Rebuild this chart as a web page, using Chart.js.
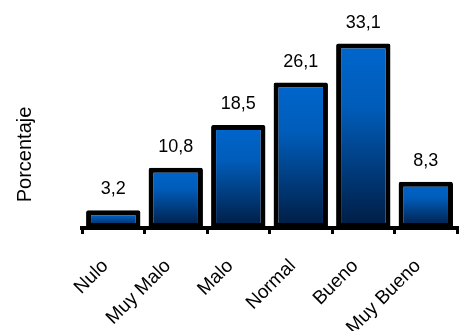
<!DOCTYPE html>
<html>
<head>
<meta charset="utf-8">
<script src="https://cdn.jsdelivr.net/npm/chart.js@4"></script>
<style>
  html, body { margin: 0; padding: 0; background: #ffffff; }
  #wrap { width: 463px; height: 331px; position: relative; }
</style>
</head>
<body>
<div id="wrap"><canvas id="c"></canvas></div>
<script>
const categories = ['Nulo', 'Muy Malo', 'Malo', 'Normal', 'Bueno', 'Muy Bueno'];
const porcentajes = [3.2, 10.8, 18.5, 26.1, 33.1, 8.3];
const yTitle = 'Porcentaje';
const yMin = 0;
const yMax = 35;

const FONT = '"Liberation Sans", Arial, sans-serif';

function barGradient(c) {
  const chart = c.chart;
  const { ctx, chartArea, scales } = chart;
  if (!chartArea || c.type !== 'data') return '#0060C0';
  const yTop = scales.y.getPixelForValue(c.raw);
  const yBot = scales.y.getPixelForValue(0);
  const g = ctx.createLinearGradient(0, yTop, 0, yBot);
  g.addColorStop(0, '#0066CC');
  g.addColorStop(0.35, '#005CB9');
  g.addColorStop(1, '#001C42');
  return g;
}

const valueLabels = {
  id: 'valueLabels',
  afterDatasetsDraw(chart) {
    const ctx = chart.ctx;
    const meta = chart.getDatasetMeta(0);
    ctx.save();
    ctx.font = '18px ' + FONT;
    ctx.fillStyle = '#000';
    ctx.textAlign = 'center';
    ctx.textBaseline = 'middle';
    meta.data.forEach((el, i) => {
      const v = chart.data.datasets[0].data[i];
      ctx.fillText(v.toFixed(1).replace('.', ','), el.x, el.y - 21);
    });
    ctx.restore();
  }
};

// y-axis title, drawn beside the plot (its centre sits lower than the plot centre in the reference)
const yAxisTitle = {
  id: 'yAxisTitle',
  afterDraw(chart) {
    const ctx = chart.ctx;
    const y = chart.scales.y;
    ctx.save();
    ctx.font = '20px ' + FONT;
    ctx.fillStyle = '#000';
    ctx.textAlign = 'center';
    ctx.textBaseline = 'middle';
    ctx.translate(25, y.getPixelForValue(13.2));
    ctx.rotate(-Math.PI / 2);
    ctx.fillText(yTitle, 0, 0);
    ctx.restore();
  }
};

new Chart(document.getElementById('c'), {
  type: 'bar',
  data: {
    labels: categories,
    datasets: [{
      data: porcentajes,
      backgroundColor: barGradient,
      borderColor: '#000000',
      borderWidth: 5,
      borderSkipped: false,
      borderRadius: 2,
      barPercentage: 0.87,
      categoryPercentage: 1.0
    }]
  },
  options: {
    responsive: true,
    maintainAspectRatio: false,
    animation: false,
    devicePixelRatio: 1,
    layout: { padding: { left: 0, right: 1, top: 33, bottom: 0 } },
    plugins: {
      legend: { display: false },
      tooltip: { enabled: false }
    },
    scales: {
      x: {
        border: { display: true, color: '#000000', width: 4 },
        grid: {
          display: true,
          drawOnChartArea: false,
          drawTicks: true,
          tickLength: 6,
          color: '#000000',
          lineWidth: 3,
          offset: true
        },
        ticks: {
          maxRotation: 45,
          minRotation: 45,
          padding: 21,
          labelOffset: -8,
          color: '#000000',
          font: { family: FONT, size: 19 }
        },
        afterFit(scale) { scale.height = 103; }
      },
      y: {
        min: yMin,
        max: yMax,
        grid: { display: false },
        border: { display: false },
        ticks: { display: false },
        title: { display: false },
        afterFit(scale) { scale.width = 82; }
      }
    }
  },
  plugins: [valueLabels, yAxisTitle]
});
</script>
</body>
</html>
